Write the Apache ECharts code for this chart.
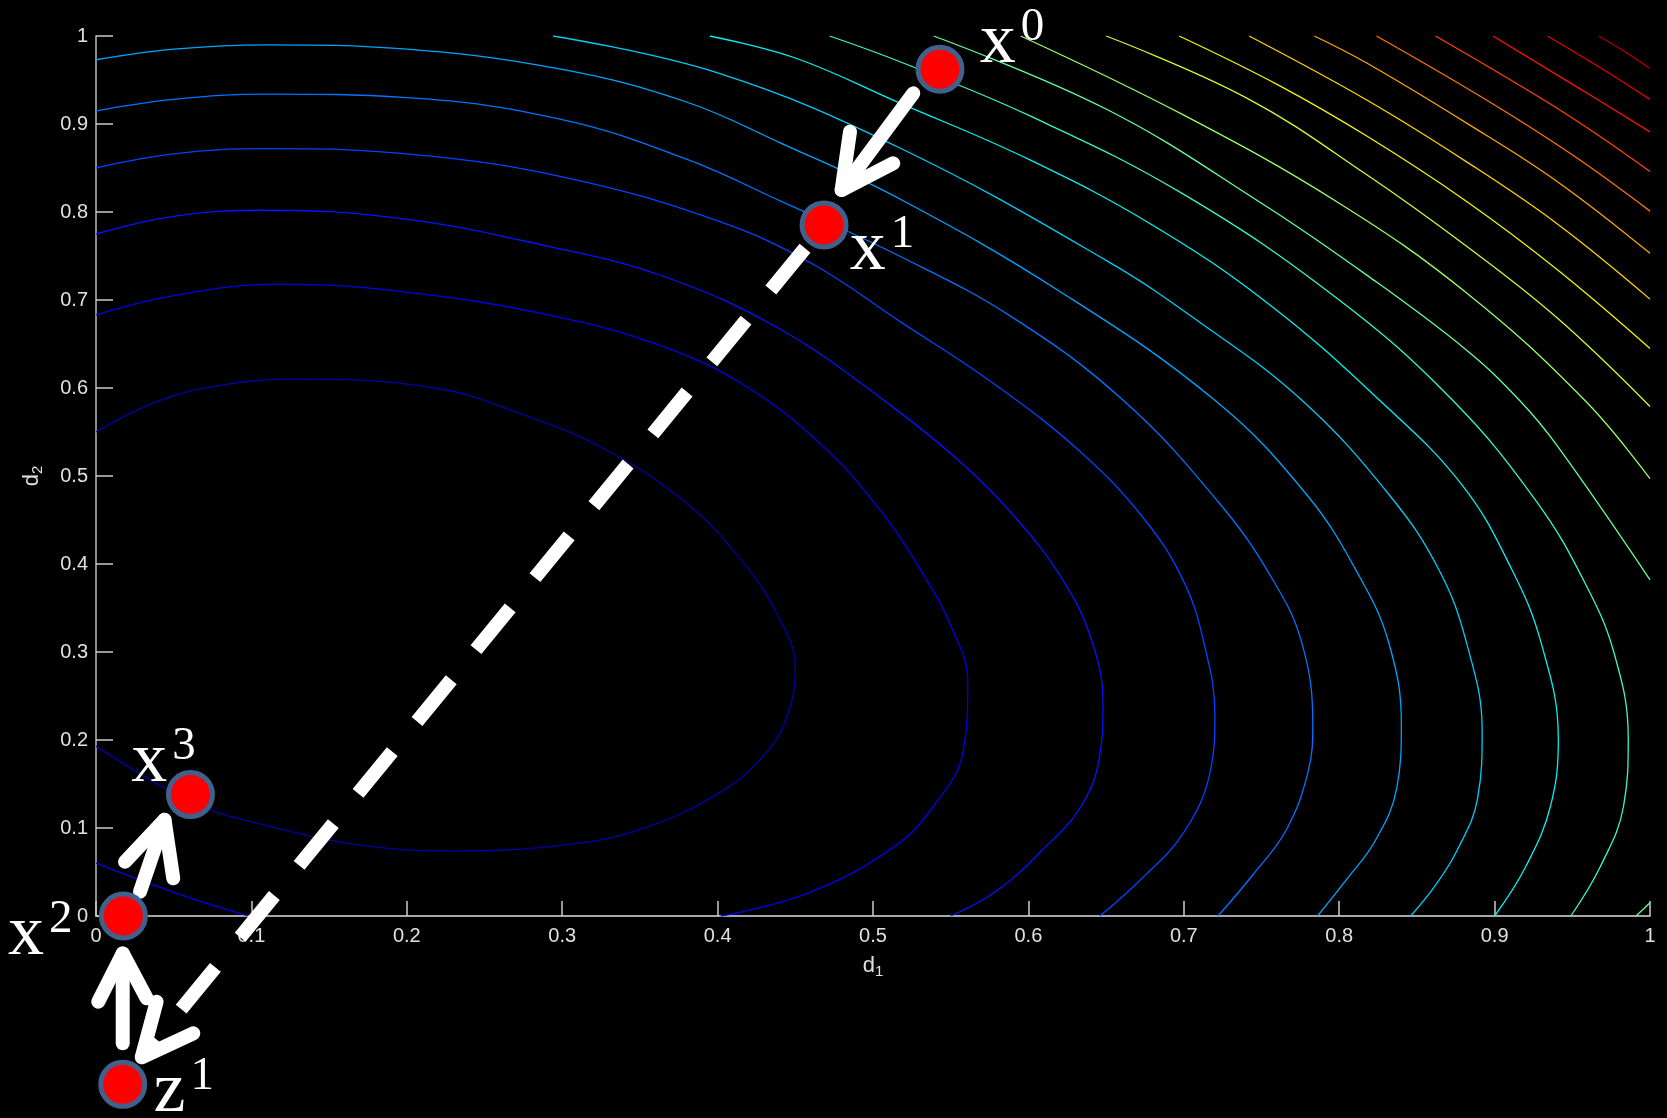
<!DOCTYPE html>
<html>
<head>
<meta charset="utf-8">
<script src="https://cdn.jsdelivr.net/npm/echarts@6/dist/echarts.min.js"></script>
<style>
html, body { margin: 0; padding: 0; background: #000; }
#chart { width: 1667px; height: 1118px; }
</style>
</head>
<body>
<div id="chart"></div>
<script>
// contour levels, [d1, d2] pairs, inner to outer
const c01 = [[0,0.55],[0.04,0.585],[0.08,0.603],[0.129,0.61],[0.218,0.6],[0.273,0.571],[0.329,0.529],[0.38,0.469],[0.414,0.407],[0.438,0.344],[0.45,0.281],[0.445,0.229],[0.432,0.187],[0.402,0.141],[0.351,0.099],[0.303,0.081],[0.233,0.074],[0.181,0.078],[0.107,0.104],[0.061,0.13],[0,0.193]];
const c02 = [[0,0.683],[0.05,0.705],[0.118,0.718],[0.199,0.709],[0.291,0.683],[0.365,0.647],[0.42,0.6],[0.47,0.53],[0.505,0.46],[0.53,0.395],[0.55,0.33],[0.561,0.266],[0.558,0.187],[0.539,0.125],[0.513,0.078],[0.458,0.026],[0.402,0]];
const c02b = [[0,0.06],[0.0515,0.026],[0.098,0]];
const c03 = [[0,0.775],[0.05,0.795],[0.107,0.802],[0.199,0.792],[0.291,0.761],[0.365,0.727],[0.44,0.667],[0.513,0.578],[0.56,0.51],[0.593,0.45],[0.621,0.385],[0.64,0.317],[0.648,0.241],[0.646,0.183],[0.634,0.125],[0.609,0.075],[0.58,0.029],[0.55,0]];
const c04 = [[0,0.85],[0.05,0.866],[0.11,0.872],[0.2,0.866],[0.3,0.84],[0.4,0.79],[0.46,0.742],[0.517,0.676],[0.58,0.602],[0.635,0.525],[0.675,0.45],[0.7,0.38],[0.713,0.31],[0.72,0.229],[0.717,0.164],[0.7,0.095],[0.672,0.041],[0.646,0]];
const c05 = [[0,0.915],[0.05,0.928],[0.11,0.934],[0.2,0.93],[0.3,0.905],[0.38,0.86],[0.441,0.812],[0.517,0.75],[0.59,0.68],[0.661,0.586],[0.722,0.471],[0.757,0.383],[0.776,0.31],[0.783,0.218],[0.78,0.164],[0.766,0.098],[0.745,0.048],[0.722,0]];
const c06 = [[0,0.973],[0.05,0.985],[0.11,0.99],[0.2,0.985],[0.3,0.962],[0.38,0.925],[0.441,0.878],[0.517,0.815],[0.62,0.71],[0.72,0.586],[0.779,0.479],[0.813,0.386],[0.832,0.31],[0.84,0.218],[0.837,0.145],[0.823,0.085],[0.804,0.04],[0.786,0]];
const c07 = [[0.294,1],[0.4,0.958],[0.517,0.873],[0.65,0.745],[0.71,0.675],[0.776,0.586],[0.832,0.479],[0.864,0.394],[0.882,0.31],[0.892,0.21],[0.889,0.133],[0.876,0.075],[0.862,0.035],[0.846,0]];
const c08 = [[0.395,1],[0.45,0.975],[0.517,0.924],[0.6,0.86],[0.68,0.785],[0.755,0.695],[0.826,0.586],[0.879,0.49],[0.911,0.394],[0.93,0.31],[0.941,0.202],[0.936,0.125],[0.92,0.056],[0.9,0]];
const c09 = [[0.472,1],[0.517,0.971],[0.6,0.91],[0.7,0.82],[0.8,0.7],[0.873,0.586],[0.927,0.471],[0.958,0.379],[0.977,0.298],[0.986,0.202],[0.983,0.125],[0.968,0.056],[0.949,0]];
const c10 = [[0.539,1],[0.65,0.917],[0.75,0.81],[0.818,0.728],[0.882,0.643],[0.916,0.586],[0.94,0.535],[1,0.382]];
const c10b = [[0.991,0],[1,0.015]];
const c11 = [[0.595,1],[0.7,0.91],[0.8,0.81],[0.882,0.708],[0.958,0.586],[1,0.497]];
const c12 = [[0.65,1],[0.74,0.93],[0.818,0.842],[0.882,0.761],[0.94,0.68],[1,0.579]];
const c13 = [[0.697,1],[0.76,0.945],[0.818,0.886],[0.882,0.812],[0.94,0.735],[1,0.645]];
const c14 = [[0.742,1],[0.818,0.927],[0.882,0.857],[0.94,0.787],[1,0.701]];
const c15 = [[0.784,1],[0.818,0.969],[0.882,0.901],[0.94,0.835],[1,0.753]];
const c16 = [[0.824,1],[0.895,0.927],[0.95,0.865],[1,0.801]];
const c17 = [[0.862,1],[0.932,0.927],[0.966,0.888],[1,0.846]];
const c18 = [[0.899,1],[0.967,0.927],[1,0.891]];
const c19 = [[0.934,1],[0.967,0.965],[1,0.928]];
const c20 = [[0.967,1],[0.984,0.982],[1,0.963]];

// iterates drawn over the plot
const iterNames = ['x', 'x', 'x', 'x', 'z'];
const iterSups = ['0', '1', '2', '3', '1'];
const iterPoints = [[0.5431,0.9622],[0.4685,0.7852],[0.0176,0],[0.0608,0.138],[0.0172,-0.1913]];

// dashed step x1 -> z1 and the solid arrows
const dashPath = [[0.4685,0.7852],[0.0294,-0.1606]];
const dashHead = [[0.039,-0.0974],[0.0294,-0.1606],[0.0626,-0.1333]];
const arrow01 = [[0.5259,0.9348],[0.4798,0.825]];
const head01 = [[0.4852,0.8913],[0.4798,0.825],[0.513,0.8553]];
const arrow23 = [[0.0283,0.0276],[0.0441,0.1093]];
const head23 = [[0.0187,0.0617],[0.0441,0.1093],[0.0497,0.0428]];
const arrowZ2 = [[0.0172,-0.1447],[0.0172,-0.0425]];
const headZ2 = [[0.0015,-0.0974],[0.0172,-0.0425],[0.0326,-0.0935]];

const contourList = [c01, c02, c03, c04, c05, c06, c07, c08, c09, c10, c11, c12, c13, c14, c15, c16, c17, c18, c19, c20];
const jetColors = ['#0000a8','#0000e8','#0014ff','#0043ff','#0073ff','#00a4ff','#00ccf8','#06f0ee','#37f8c8','#67ff98','#98ff67','#c8ff37','#f4f406','#ffd500','#ffa400','#ff7300','#ff4300','#ff1200','#e10000','#a80000'];
const labelOffsets = [[72,-26],[58,25],[-83,19],[-27,-32],[61,8]];

const chart = echarts.init(document.getElementById('chart'));
const axisColor = '#e0e0e0';
const series = [];

function contourSeries(pts, color) {
    return {
        type: 'line', data: pts, symbol: 'none', showSymbol: false, smooth: 0.4,
        silent: true, z: 1, lineStyle: { color: color, width: 1.3 }
    };
}
contourList.forEach(function (pts, i) { series.push(contourSeries(pts, jetColors[i])); });
series.push(contourSeries(c02b, jetColors[1]));
series.push(contourSeries(c10b, jetColors[9]));

function stroke(pts, extra) {
    return Object.assign({
        type: 'line', data: pts, symbol: 'none', showSymbol: false, clip: false, silent: true, z: 3,
        lineStyle: { color: '#ffffff', width: 14, cap: 'round', join: 'round' }
    }, extra || {});
}
series.push(stroke(dashPath, { lineStyle: { color: '#ffffff', width: 14, type: [54, 39], dashOffset: 63, cap: 'butt' } }));
[dashHead, arrow01, head01, arrow23, head23, arrowZ2, headZ2].forEach(function (p) { series.push(stroke(p)); });

series.push({
    type: 'scatter', z: 5, clip: false, silent: true, symbolSize: 44,
    itemStyle: { color: '#ff0000', borderColor: '#41618d', borderWidth: 5, opacity: 1 },
    data: iterPoints.map(function (p, i) {
        return { value: p, label: { offset: labelOffsets[i] } };
    }),
    label: {
        show: true, position: 'inside',
        formatter: function (p) {
            return '{v|' + iterNames[p.dataIndex] + '}{s|' + iterSups[p.dataIndex] + '}';
        },
        rich: {
            v: { fontFamily: 'Liberation Serif', fontSize: 72, lineHeight: 80, color: '#ffffff' },
            s: { fontFamily: 'Liberation Serif', fontSize: 47, lineHeight: 50, color: '#ffffff', padding: [0, 0, 31, 5] }
        }
    }
});

const nameRich = {
    d: { fontFamily: 'Liberation Sans', fontSize: 22, lineHeight: 24, color: axisColor },
    s: { fontFamily: 'Liberation Sans', fontSize: 15, lineHeight: 24, color: axisColor, padding: [11, 0, 0, 0] }
};

chart.setOption({
    animation: false,
    backgroundColor: '#000000',
    grid: { left: 96, top: 36, width: 1554, height: 880, containLabel: false, outerBoundsMode: 'none' },
    xAxis: {
        type: 'value', min: 0, max: 1, interval: 0.1,
        name: '{d|d}{s|1}', nameLocation: 'middle', nameGap: 38, nameTextStyle: { rich: nameRich },
        axisLine: { show: true, onZero: false, lineStyle: { color: axisColor, width: 1.5 } },
        axisTick: { show: true, inside: true, length: 15, lineStyle: { color: '#cccccc', width: 1.5 } },
        axisLabel: { color: axisColor, fontSize: 20, fontFamily: 'Liberation Sans', margin: 10 },
        splitLine: { show: false }
    },
    yAxis: {
        type: 'value', min: 0, max: 1, interval: 0.1,
        name: '{d|d}{s|2}', nameLocation: 'middle', nameGap: 52, nameTextStyle: { rich: nameRich },
        axisLine: { show: true, onZero: false, lineStyle: { color: '#bbbbbb', width: 1.5 } },
        axisTick: { show: true, inside: true, length: 17, lineStyle: { color: '#cccccc', width: 1.5 } },
        axisLabel: { color: axisColor, fontSize: 20, fontFamily: 'Liberation Sans', margin: 8 },
        splitLine: { show: false }
    },
    series: series
});
</script>
</body>
</html>
